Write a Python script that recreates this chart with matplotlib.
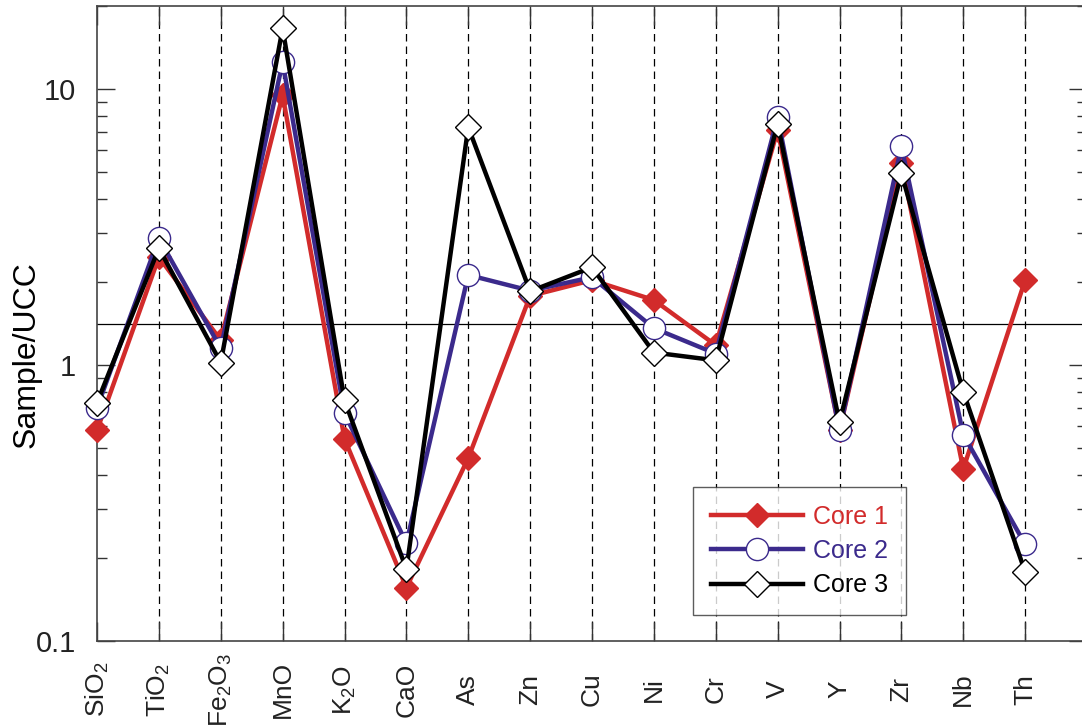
import matplotlib
matplotlib.use('Agg')
from matplotlib import pyplot as plt
import numpy as np

plt.rcParams['font.family'] = ['Liberation Sans', 'DejaVu Sans']
plt.rcParams['mathtext.default'] = 'regular'

elements = ['SiO$_2$', 'TiO$_2$', 'Fe$_2$O$_3$', 'MnO', 'K$_2$O', 'CaO', 'As', 'Zn',
            'Cu', 'Ni', 'Cr', 'V', 'Y', 'Zr', 'Nb', 'Th']

core1 = [0.58, 2.46, 1.23, 9.5, 0.54, 0.156, 0.46, 1.78, 2.03, 1.72, 1.18, 7.1, 0.58, 5.4, 0.42, 2.03]
core2 = [0.70, 2.88, 1.15, 12.5, 0.67, 0.226, 2.12, 1.86, 2.08, 1.36, 1.10, 7.9, 0.58, 6.2, 0.56, 0.224]
core3 = [0.73, 2.65, 1.02, 16.6, 0.745, 0.182, 7.28, 1.85, 2.26, 1.11, 1.04, 7.47, 0.62, 4.96, 0.80, 0.178]

ref_level = 1.41

red = '#d22b2b'
indigo = '#3b2a8c'

fig = plt.figure(figsize=(10.82, 7.26), dpi=100)
ax = fig.add_axes([97 / 1082, 1 - 641 / 726, 990 / 1082, 635 / 726])

x = np.arange(len(elements))

for xi in x[1:]:
    ax.axvline(xi, color='black', lw=0.9, ls=(0, (6, 4)), zorder=1)
ax.axhline(ref_level, color='black', lw=0.9, zorder=1)

ax.plot(x, core1, color=red, lw=3.2, marker='D', ms=12, mfc=red, mec=red,
        label='Core 1', zorder=3, clip_on=False)
ax.plot(x, core2, color=indigo, lw=3.2, marker='o', ms=16, mfc='white', mec=indigo,
        mew=1.0, label='Core 2', zorder=4, clip_on=False)
ax.plot(x, core3, color='black', lw=3.2, marker='D', ms=13, mfc='white', mec='black',
        mew=1.0, label='Core 3', zorder=5, clip_on=False)

ax.set_yscale('log')
ax.set_ylim(0.1, 20)
ax.set_xlim(0, 16)

ax.set_yticks([0.1, 1, 10])
ax.set_yticklabels(['0.1', '1', '10'])
ax.set_xticks(x)
ax.set_xticklabels(elements, rotation=90, va='center', ha='center')

ax.tick_params(axis='y', which='major', direction='in', length=13, width=1,
               labelsize=21, pad=15, right=True, colors='#333333', labelcolor='#222222')
ax.tick_params(axis='y', which='minor', direction='in', length=7, width=1,
               right=True, colors='#333333')
ax.tick_params(axis='x', which='major', direction='in', length=14, width=1,
               labelsize=19, pad=35, top=True, colors='#333333', labelcolor='#222222')

for s in ax.spines.values():
    s.set_color('#444444')
    s.set_linewidth(1.2)

ax.set_ylabel('Sample/UCC', fontsize=23)
ax.yaxis.set_label_coords(-55 / 990, (641 - 355) / 635)

leg = ax.legend(loc='upper left', bbox_to_anchor=(596 / 990, (641 - 487) / 635),
                fontsize=18, frameon=True, fancybox=False, edgecolor='#333333',
                handlelength=3.7, borderpad=0.7, labelspacing=0.42, handletextpad=0.4,
                borderaxespad=0)
leg.get_frame().set_linewidth(1.0)
for txt, c in zip(leg.get_texts(), [red, indigo, 'black']):
    txt.set_color(c)

fig.savefig('out.png', dpi=100)
